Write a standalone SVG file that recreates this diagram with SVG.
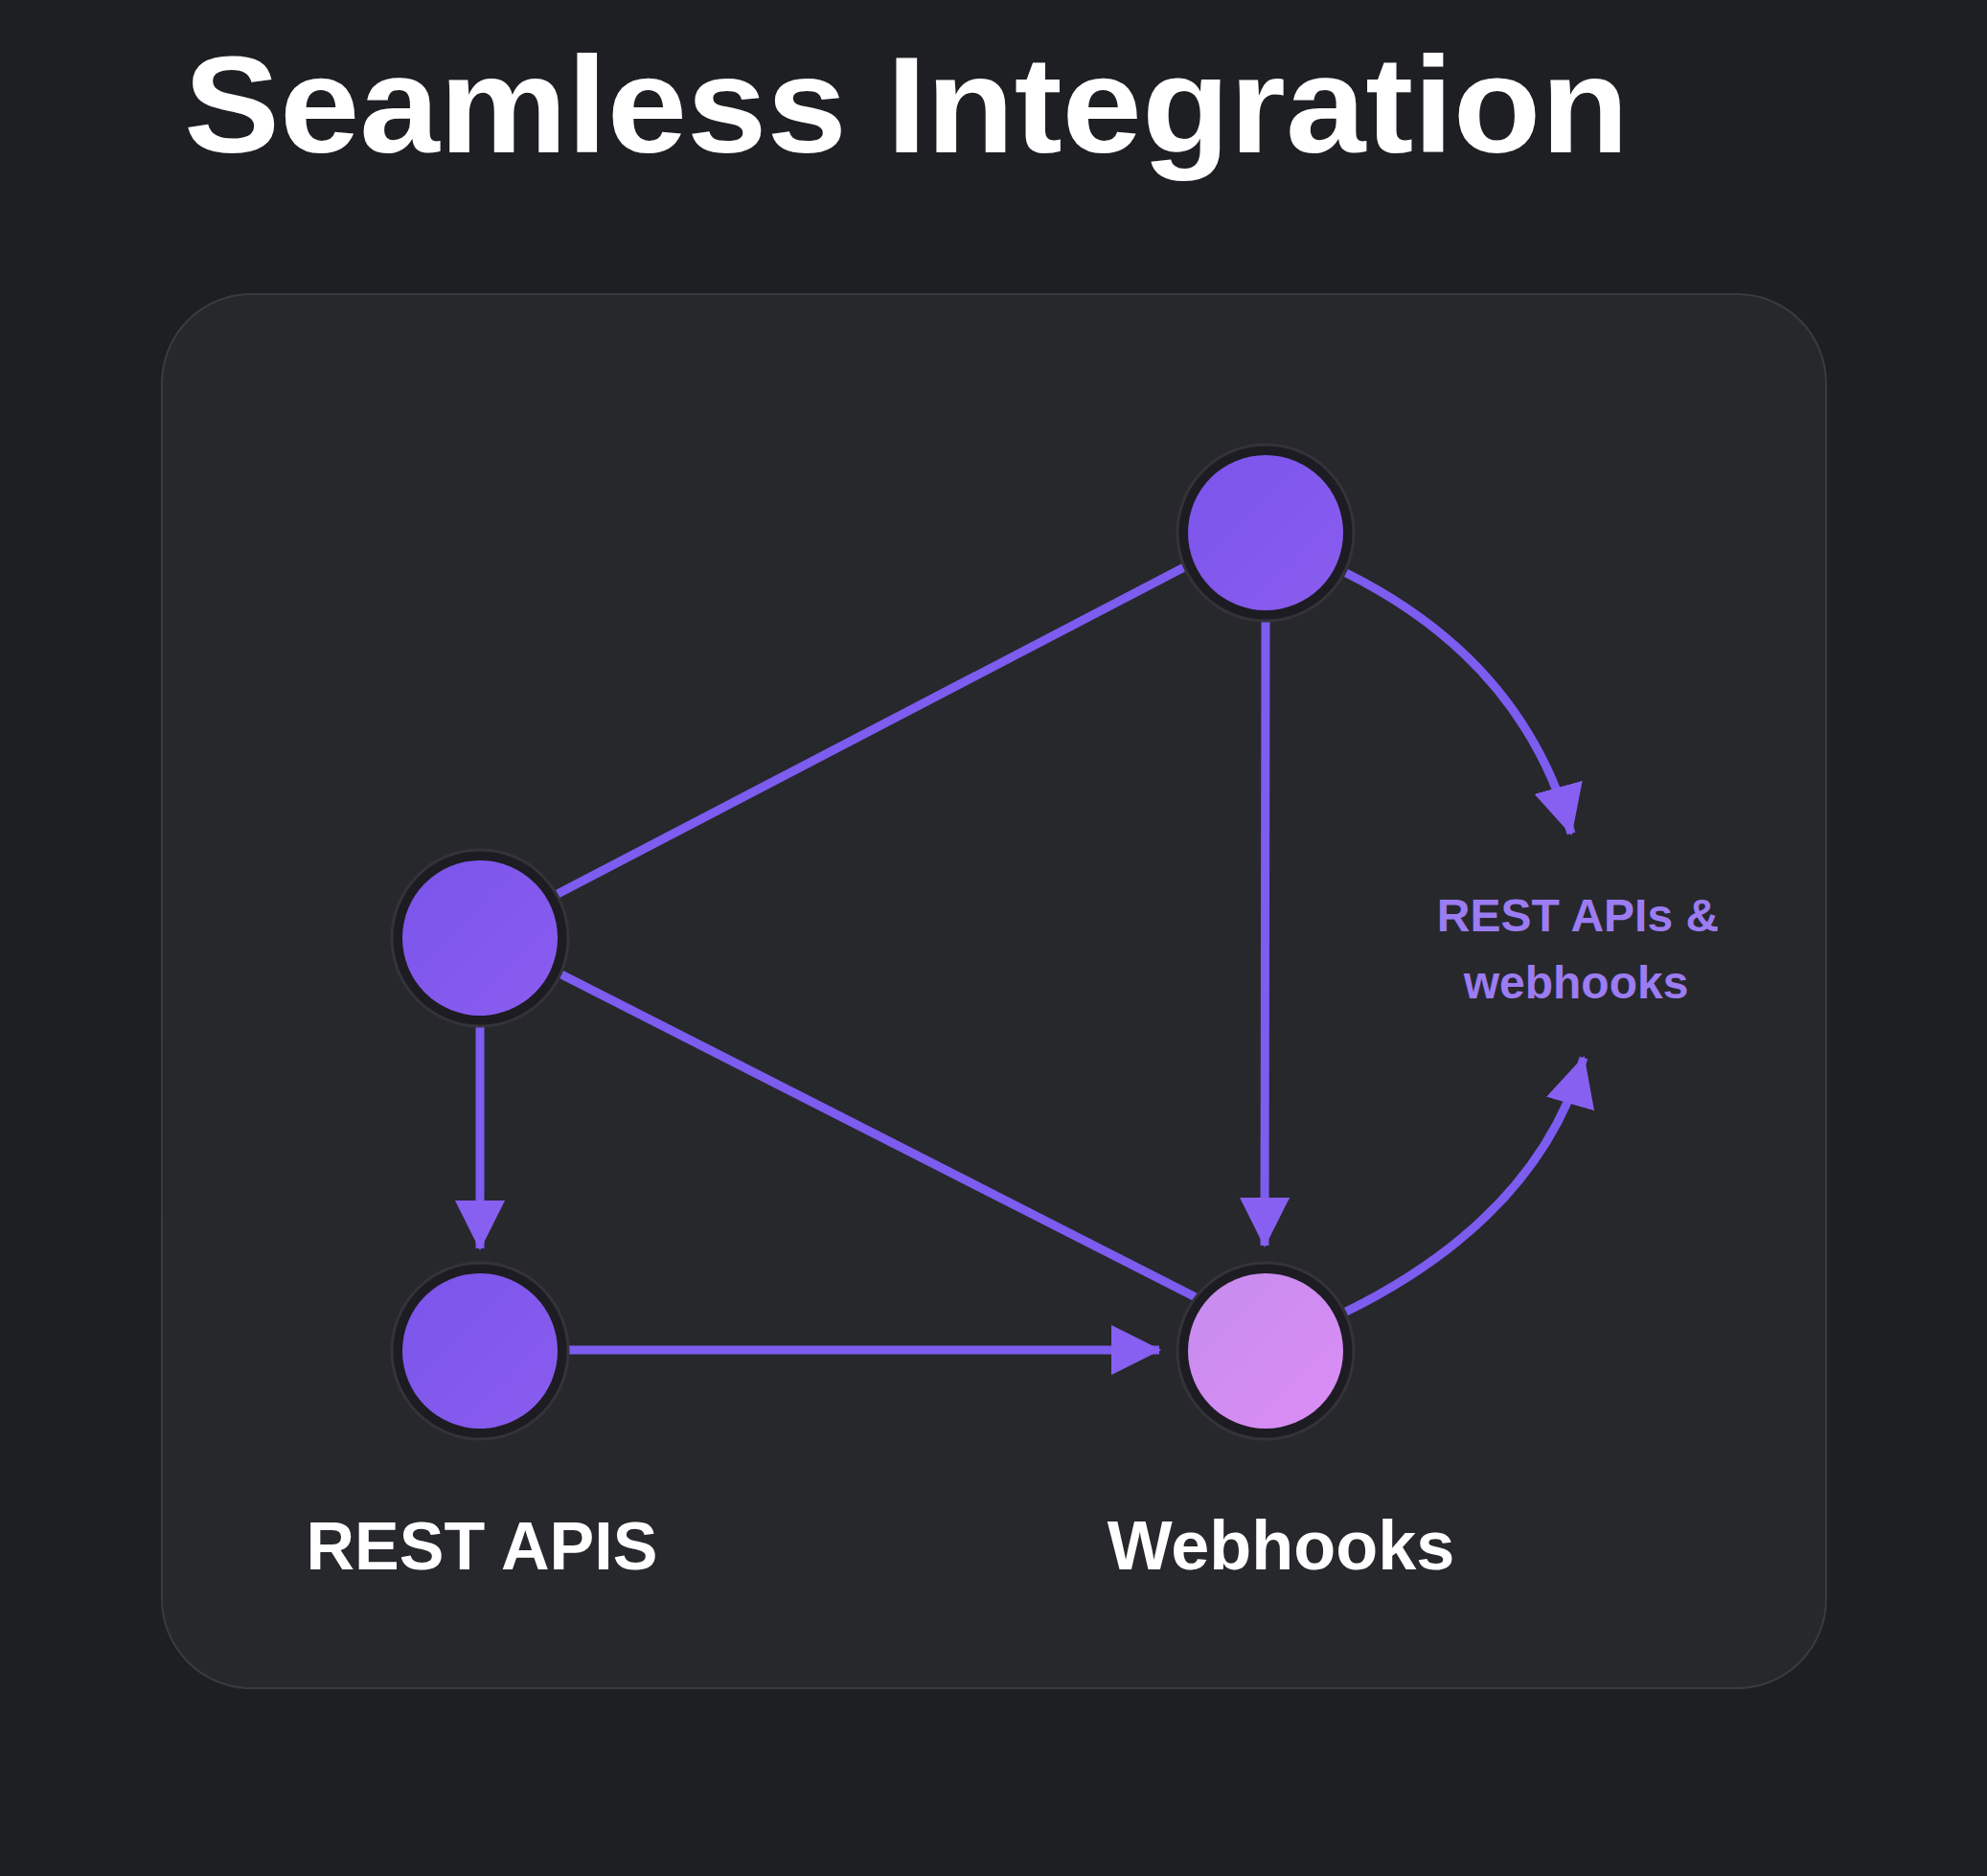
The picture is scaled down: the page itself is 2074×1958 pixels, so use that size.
<svg xmlns="http://www.w3.org/2000/svg" width="2074" height="1958" viewBox="0 0 2074 1958">
<defs>
<style>
.ln{stroke:#7d5cf0;stroke-width:9;fill:none}
.nd{fill:url(#pg)}
.ring{fill:#1d1c22;stroke:#34333a;stroke-width:3}
.lbl{font-family:"Liberation Sans",Arial,sans-serif;font-weight:bold;fill:#ffffff;text-anchor:middle}
</style>
<linearGradient id="pg" x1="0" y1="0" x2="1" y2="1"><stop offset="0" stop-color="#7a55ea"/><stop offset="1" stop-color="#8b5cf0"/></linearGradient>
<linearGradient id="pk" x1="0" y1="0" x2="1" y2="1"><stop offset="0" stop-color="#c58cee"/><stop offset="1" stop-color="#dc8df5"/></linearGradient>
<marker id="ar" markerUnits="userSpaceOnUse" markerWidth="54" markerHeight="54" refX="50" refY="26" orient="auto" viewBox="0 0 54 54"><path d="M0,0 L52,26 L0,52 z" fill="#8760f2"/></marker>
</defs>
<rect width="2074" height="1958" fill="#1e1f22"/>
<text x="192" y="159" font-family="Liberation Sans,Arial,sans-serif" font-weight="bold" font-size="142" fill="#ffffff" textLength="1508" lengthAdjust="spacingAndGlyphs">Seamless Integration</text>
<rect x="169" y="307" width="1737" height="1455" rx="93" fill="#27282c" stroke="#3a3b40" stroke-width="2"/>
<g id="connectors">
<path class="ln" d="M1238,591 L582,933"/>
<path class="ln" d="M582,1015 L1250,1355"/>
<path class="ln" marker-end="url(#ar)" d="M1321,648 L1320,1300"/>
<path class="ln" marker-end="url(#ar)" d="M501,1070 L501,1303"/>
<path class="ln" marker-end="url(#ar)" d="M593,1409 L1210,1409"/>
<path class="ln" marker-end="url(#ar)" d="M1405,598 Q1590,690 1640,870"/>
<path class="ln" marker-end="url(#ar)" d="M1405,1369 Q1605,1270 1653,1104"/>
</g>
<g id="node-top"><circle class="ring" cx="1321" cy="556" r="92"/><circle class="nd" cx="1321" cy="556" r="81"/></g>
<g id="node-left"><circle class="ring" cx="501" cy="979" r="92"/><circle class="nd" cx="501" cy="979" r="81"/></g>
<g id="node-rest"><circle class="ring" cx="501" cy="1410" r="92"/><circle class="nd" cx="501" cy="1410" r="81"/></g>
<g id="node-webhooks"><circle class="ring" cx="1321" cy="1410" r="92"/><circle cx="1321" cy="1410" r="81" fill="url(#pk)"/></g>
<g id="label-mid">
<text class="lbl" x="1647" y="972" font-size="48" style="fill:#9c7cf2">REST APIs &amp;</text>
<text class="lbl" x="1645" y="1042" font-size="48" style="fill:#9c7cf2">webhooks</text>
</g>
<text class="lbl" x="503" y="1638" font-size="70">REST APIS</text>
<text class="lbl" x="1337" y="1638" font-size="72">Webhooks</text>
</svg>
